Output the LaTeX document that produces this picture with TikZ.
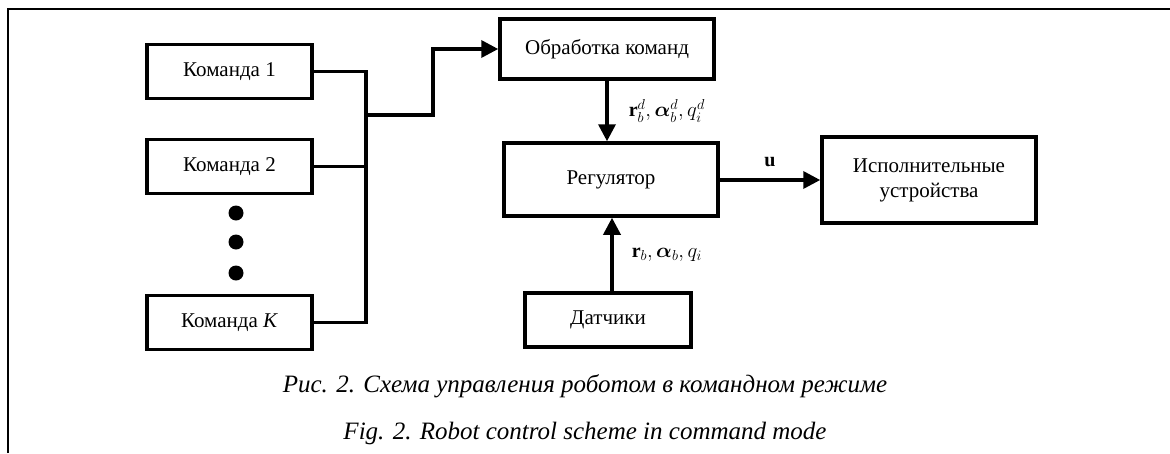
\documentclass[tikz,border=0pt]{standalone}
\usepackage{fontspec}
\setmainfont{Liberation Serif}
\usepackage{amsmath,bm}
\usetikzlibrary{arrows.meta}
\tikzset{
  blok/.style={draw,line width=3.5pt,minimum height=54pt,inner sep=0pt,font=\fontsize{21}{25}\selectfont},
  svyaz/.style={line width=3.5pt},
  metka/.style={font=\fontsize{20}{24}\selectfont,inner sep=0pt},
  podpis/.style={font=\fontsize{25}{30}\selectfont\itshape}
}
\begin{document}
\begin{tikzpicture}[>={Triangle[length=17pt,width=17pt]},x=1pt,y=-1pt]
	\useasboundingbox (0,0) rectangle (1170,453);
	\draw[line width=1.3pt] (8,453) -- (8,9) -- (1170,9);
	% komandy
	\node[blok,minimum width=165pt] (k1) at (229.5,71.5) {Команда 1};
	\node[blok,minimum width=165pt] (k2) at (229.5,166.5) {Команда 2};
	\node[blok,minimum width=165pt] (kK) at (229.5,322.5) {Команда \textit{K}};
	\foreach \y/\n in {213/t1,242/t2,273/t3}
		\fill (236,\y) circle (7.5pt) coordinate (\n);
	\coordinate (bus) at (366,115);
	\draw[svyaz] (k1.east) -| (bus |- kK.east) -- (kK.east);
	\draw[svyaz] (k2.east) -- (k2.east -| bus);
	% obrabotka i regulyator
	\node[blok,minimum width=214pt,minimum height=60pt] (obr) at (607,49) {Обработка команд};
	\node[blok,minimum width=214pt,minimum height=73pt] (reg) at (611,179.5) {Регулятор};
	\node[blok,minimum width=214pt,minimum height=86pt,align=center] (isp) at (929,180) {Исполнительные\\устройства};
	\node[blok,minimum width=166pt] (dat) at (608,320) {Датчики};
	\draw[svyaz,->] (bus) -- ++(67,0) |- (obr.west);
	\draw[svyaz,->] (obr.south) -- (obr.south |- reg.north)
		node[midway,right=20pt,metka] (zad) {$\mathbf{r}_b^d, \bm{\alpha}_b^d, q_i^d$};
	\draw[svyaz,->] (dat.north -| 612,0) -- (reg.south -| 612,0)
		node[midway,right=18pt,metka] (izm) {$\mathbf{r}_b, \bm{\alpha}_b, q_i$};
	\draw[svyaz,->] (reg.east |- isp.west) -- (isp.west)
		node[midway,above=12pt,metka] (upr) {$\mathbf{u}$};
	% podpisi
	\node[podpis] (ris) at (585,386) {Рис. 2. Схема управления роботом в командном режиме};
	\node[podpis] (fig) at (585,433) {Fig. 2. Robot control scheme in command mode};
\end{tikzpicture}
\end{document}
